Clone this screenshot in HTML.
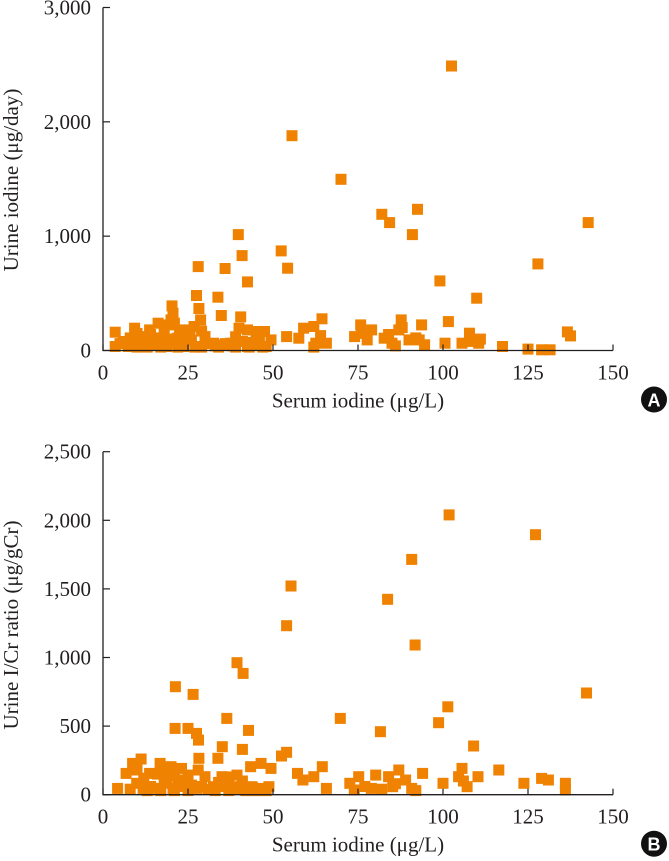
<!DOCTYPE html>
<html><head><meta charset="utf-8"><style>
body{margin:0;background:#fff}
svg{display:block}
text{font-family:"Liberation Serif",serif;fill:#231f20}
</style></head><body>
<svg id="chart" width="669" height="861" viewBox="0 0 669 861" xmlns="http://www.w3.org/2000/svg"></svg>
<script>
// Panel A data: serum iodine (x) vs urine iodine (y)
const aSerum = [102.5,55.6,70,92.5,82,84.3,91,142.7,39.8,40.9,52.4,54.3,28,35.9,42.5,127.9,99.1,109.9,27.5,33.8,28.2,34.8,40.5,20.3,64.4,101.6,93.7,87.7,136.6,137.5,117.5,125,129,131.5,
54,57.6,59,62,62.6,65.7,74,75.8,79,77.7,82.7,85,87,90,93,94.6,100.6,105.6,107.8,110.5,
3.6,3.6,6,9.3,11,13.7,16.2,18,20,20.6,22.5,25,26.8,28.7,30,32.5,35,37.5,40,42.5,45,47.5,48,49.4,7.4,15,23.7,27.5,42.5,45,18.7,12.4,21.8,25.6,19.3,20.6,
5,8,10,12,14,16,17,19,21,23,24,26,29,31,33,36,38,39,41,44,46,10,13,17,22,27,29,34,39,43,47,62,64,76,84,86,88,92,108,111];
const aUrine = [2488,1879,1497,1235,1191,1119,1014,1119,1014,830,871,720,734,717,600,757,609,457,481,466,367,306,294,390,277,253,224,268,163,128,35,12,6,6,
122,108,195,210,64,64,122,224,180,93,108,64,180,93,93,50,64,64,151,64,
160,35,79,195,122,180,239,151,268,64,180,122,210,268,122,64,50,64,195,180,166,166,35,93,35,50,35,35,35,50,35,35,108,180,224,326,
60,110,150,80,140,110,60,100,240,70,150,90,170,60,40,60,40,120,80,70,120,30,30,30,30,30,30,30,30,30,30,30,130,150,140,40,200,110,80,100];
// Panel B data: serum iodine (x) vs urine I/Cr ratio (y)
const bSerum = [101.8,127.2,90.8,55.3,83.7,54,91.8,39.4,41.2,21.3,26.5,142.2,101.4,36.4,69.8,98.7,42.8,81.6,21.2,25,27.5,28.1,35.1,41,109,54,52.5,28.2,33.8,11.2,8.7,64.5,43.4,46.5,49.4,116.4,105.6,87,94,57.2,129,131,123.8,136,136,100,110.3,104.6,107.1,65.7,58.8,62,72.6,75.2,80.2,84,89,90.8,73.9,78.9,85.2,
4.3,6.8,9.9,13.7,16.8,20,23.1,18.7,22.5,26.2,30,32.5,35,39.4,38.1,43.8,46.3,48.8,15,25,20.6,27.7,11.8,
8,10,12,14,16,17,18,19,21,22,24,26,28,29,31,34,36,37,39,41,44,47,13,17,21,25,33,37,42,45,48,77,82,86,92,106];
const bRatio = [2039,1895,1715,1521,1424,1232,1091,962,884,787,731,741,641,556,556,525,469,459,483,483,447,398,350,330,355,309,282,265,265,260,228,204,204,228,192,180,192,180,155,155,119,107,83,83,34,83,131,131,58,46,107,131,83,131,143,131,107,46,34,46,58,
46,155,83,155,228,204,192,83,107,58,131,58,131,143,58,58,46,58,46,143,46,46,46,
40,180,120,60,150,200,110,170,140,60,100,70,180,60,40,90,60,130,40,100,50,40,30,30,30,30,30,30,30,30,30,60,40,80,30,100];
const xTicks = [0,25,50,75,100,125,150];
const aYTicks = [0,1000,2000,3000];
const aYLabels = ["0","1,000","2,000","3,000"];
const bYTicks = [0,500,1000,1500,2000,2500];
const bYLabels = ["0","500","1,000","1,500","2,000","2,500"];

const NS = "http://www.w3.org/2000/svg";
const svg = document.getElementById('chart');
function mk(tag, attrs, parent){
  const e = document.createElementNS(NS, tag);
  for (const k in attrs) e.setAttribute(k, attrs[k]);
  (parent||svg).appendChild(e);
  return e;
}
function panel(opt){
  const g = mk('g', {});
  
  
  const X0=103, X1=613;
  const xs = v => X0 + (v/150)*(X1-X0);
  const ys = v => opt.y0 - (v/opt.ymax)*(opt.y0-opt.ytop);
  const pts = mk('g', {fill:'#ef8200'}, g);
  
  
  opt.xd.forEach((xv,i)=>{
    const r = mk('rect', {x:(xs(xv)-5.5).toFixed(1), y:(ys(opt.yd[i])-5.5).toFixed(1), width:11, height:11}, pts);
    
    
  });
  const ax = mk('path', {d:`M${X0} ${opt.ytop} L${X0} ${opt.y0} L${X1} ${opt.y0}`, stroke:'#231f20', 'stroke-width':1.3, fill:'none'}, g);
  
  
  xTicks.forEach(t=>{
    const x = xs(t);
    mk('line', {x1:x, x2:x, y1:opt.y0, y2:opt.y0-6, stroke:'#231f20','stroke-width':1.2}, g);
    const tx = mk('text', {x:x, y:opt.y0+29, 'text-anchor':'middle','font-size':21}, g);
    tx.textContent = t;
    
    
  });
  opt.yt.forEach((t,i)=>{
    const y = ys(t);
    mk('line', {x1:X0, x2:X0+7, y1:y, y2:y, stroke:'#231f20','stroke-width':1.2}, g);
    const tx = mk('text', {x:91, y:y+7, 'text-anchor':'end','font-size':21}, g);
    tx.textContent = opt.yl[i];
    
    
  });
  const xt = mk('text', {x:358, y:opt.y0+57, 'text-anchor':'middle','font-size':21}, g);
  xt.textContent = 'Serum iodine (\u03bcg/L)';
  
  
  const yt = mk('text', {x:0, y:0, 'text-anchor':'middle','font-size':21, transform:`translate(18 ${opt.ytc}) rotate(-90)`}, g);
  yt.textContent = opt.ytitle;
  
  
  const bc = mk('circle', {cx:654, cy:opt.y0+49, r:13, fill:'#111'}, g);
  
  
  const bt = mk('text', {x:654, y:opt.y0+56, 'text-anchor':'middle','font-size':18,'font-weight':'bold', style:'font-family:"Liberation Sans",sans-serif;fill:#fff'}, g);
  bt.textContent = opt.badge;
  
  
}
panel({name:'panel-a', xd:aSerum, yd:aUrine, y0:350.5, ytop:7.5, ymax:3000, yt:aYTicks, yl:aYLabels, ytitle:'Urine iodine (\u03bcg/day)', ytc:180, badge:'A'});
panel({name:'panel-b', xd:bSerum, yd:bRatio, y0:794.7, ytop:451.7, ymax:2500, yt:bYTicks, yl:bYLabels, ytitle:'Urine I/Cr ratio (\u03bcg/gCr)', ytc:625, badge:'B'});
</script>
</body></html>
